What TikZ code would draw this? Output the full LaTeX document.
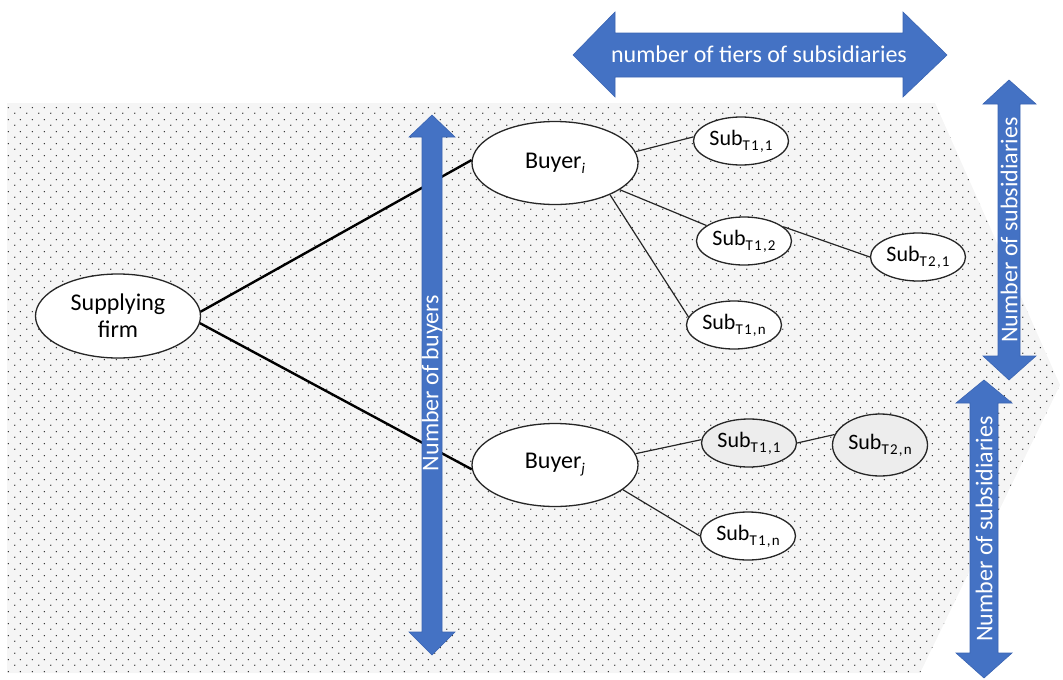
\documentclass[tikz,border=0pt]{standalone}
\usepackage{fontspec}
\setmainfont{Carlito}
\usetikzlibrary{shapes.geometric,patterns.meta}

\definecolor{arrowblue}{RGB}{68,114,196}
\definecolor{arrowedge}{RGB}{58,100,178}

% staggered dot grid used for the shaded backdrop
\tikzdeclarepattern{
  name=staggereddots,
  type=uncolored,
  bounding box={(0pt,0pt) and (12pt,12pt)},
  tile size={(12pt,12pt)},
  code={
    \fill (3pt,3pt) circle (0.8pt);
    \fill (9pt,9pt) circle (0.8pt);
  }
}

% lowered, spaced-out subscript for the subsidiary labels
\newcommand{\tiersub}[1]{\raisebox{-5pt}{\fontsize{15}{15}\selectfont\addfontfeature{LetterSpace=8}#1}}
\newcommand{\buyersub}[1]{\raisebox{-5pt}{\fontsize{15}{15}\selectfont\itshape #1}}

\begin{document}
\begin{tikzpicture}[x=1pt,y=-1pt,
  oval/.style={ellipse, draw=black!85, line width=1.3pt, fill=white,
    inner sep=0pt, align=center},
  firmnode/.style={oval, minimum width=165pt, minimum height=84pt,
    font=\fontsize{24}{27}\selectfont},
  buyernode/.style={oval, minimum width=166pt, minimum height=83pt,
    font=\fontsize{24}{27}\selectfont},
  subnode/.style={oval, minimum width=95pt, minimum height=48pt,
    font=\fontsize{22}{24}\selectfont},
  greysub/.style={subnode, fill=black!7},
  trunk/.style={draw=black, line width=2.4pt},
  link/.style={draw=black!85, line width=1.2pt},
  bluearrow/.style={fill=arrowblue, draw=arrowedge, line width=0.6pt, line join=miter},
  arrowlabel/.style={text=white, inner sep=0pt, font=\fontsize{24}{28}\selectfont}
]
\useasboundingbox (0,0) rectangle (1063,680);

% dotted backdrop
\path[fill=black!4] (7,103) -- (935,103) -- (1060,385) -- (920,673) -- (7,673) -- cycle;
\path[pattern=staggereddots, pattern color=black!85]
  (7,103) -- (935,103) -- (1060,385) -- (920,673) -- (7,673) -- cycle;

% firms
\node[firmnode] (sup) at (118,316) {Supplying\\firm};
\node[buyernode] (bi) at (555,163) {Buyer\buyersub{i}};
\node[buyernode] (bj) at (555,465) {Buyer\buyersub{j}};

% subsidiaries of buyer i
\node[subnode] (si11) at (741,141) {Sub\tiersub{T1,1}};
\node[subnode] (si12) at (744,241) {Sub\tiersub{T1,2}};
\node[subnode] (si21) at (918,257) {Sub\tiersub{T2,1}};
\node[subnode] (si1n) at (734,325) {Sub\tiersub{T1,n}};

% subsidiaries of buyer j
\node[greysub] (sj11) at (749,443) {Sub\tiersub{T1,1}};
\node[greysub, minimum height=62pt] (sj2n) at (880,445) {Sub\tiersub{T2,n}};
\node[subnode] (sj1n) at (748,536) {Sub\tiersub{T1,n}};

% ownership links
\draw[trunk] (sup.3) -- (bi.178);
\draw[trunk] (sup.-5) -- (bj.183);
\draw[link] (bi.8) -- (si11.175);
\draw[link] (bi) -- (si12);
\draw[link] (bi.-30) -- (si1n.170);
\draw[link] (si12.20) -- (si21.west);
\draw[link] (bj.8) -- (sj11.176);
\draw[link] (sj11.east) -- (sj2n.167);
\draw[link] (bj.-20) -- (sj1n.west);

% dimension arrows
\path[bluearrow] (573,55) -- (615,12) -- (615,33) -- (903,33) -- (903,12) -- (947,55)
  -- (903,97) -- (903,77) -- (615,77) -- (615,97) -- cycle;
\node[arrowlabel] (tiers) at (759,54) {number of tiers of subsidiaries};

\path[bluearrow] (432,115) -- (455,137) -- (442,137) -- (442,632) -- (455,632) -- (432,655)
  -- (409,632) -- (422,632) -- (422,137) -- (409,137) -- cycle;
\node[arrowlabel, rotate=90] (buyers) at (432,383) {Number of buyers};

\path[bluearrow] (1009,80) -- (1036,104) -- (1020,104) -- (1020,356) -- (1036,356) -- (1009,380)
  -- (983,356) -- (998,356) -- (998,104) -- (983,104) -- cycle;
\node[arrowlabel, rotate=90] (subsi) at (1009,230) {Number of subsidiaries};

\path[bluearrow] (984,380) -- (1012,403) -- (998,403) -- (998,653) -- (1012,653) -- (984,678)
  -- (956,653) -- (970,653) -- (970,403) -- (956,403) -- cycle;
\node[arrowlabel, rotate=90] (subsj) at (984,529) {Number of subsidiaries};
\end{tikzpicture}
\end{document}
